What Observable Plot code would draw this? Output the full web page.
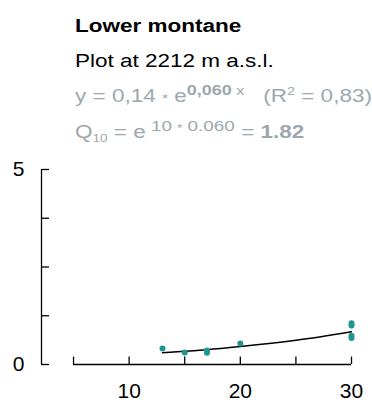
<!DOCTYPE html>
<html>
<head>
<meta charset="utf-8">
<script src="https://cdn.jsdelivr.net/npm/d3@7"></script>
<script src="https://cdn.jsdelivr.net/npm/@observablehq/plot@0.6"></script>
<style>
  body { margin: 0; background: #fff; }
  #page { position: relative; width: 372px; height: 406px; overflow: hidden; font-family: "Liberation Sans", Arial, sans-serif; }
  .line { position: absolute; left: 75px; font-size: 18px; line-height: 18px; white-space: nowrap; transform: scaleX(1.25); transform-origin: left center; }
  .gray { color: #9da8ae; }
  .ast { font-size: 0.7em; position: relative; top: 0.05em; }
  .up { position: relative; }
  #chart { position: absolute; left: 0; top: 150px; }
</style>
</head>
<body>
<div id="page">
  <div class="line" style="top:17px;font-weight:bold;">Lower montane</div>
  <div class="line" style="top:52px;">Plot at 2212 m a.s.l.</div>
  <div class="line gray" style="top:87px;">y = 0,14 <span class="ast">*</span> e<span class="up" style="font-size:0.8em;font-weight:bold;top:-0.5em;">0,060</span><span class="up" style="font-size:0.72em;top:-0.55em;"> x</span>&nbsp;&nbsp;&nbsp;(R<span class="up" style="font-size:0.64em;top:-0.6em;">2</span> = 0,83)</div>
  <div class="line gray" style="top:123px;">Q<span class="up" style="font-size:0.6em;top:0.4em;">10</span> = e<span class="up" style="font-size:0.84em;top:-0.45em;"> 10 <span class="ast">*</span> 0.060</span> = <b>1.82</b></div>
  <div id="chart"></div>
</div>
<script>
// Data
const temperature = [13, 15, 17, 17, 20, 30, 30, 30, 30];
const respiration = [0.41, 0.31, 0.30, 0.36, 0.54, 1.06, 1.00, 0.74, 0.68];

// Fitted curve
const fitX = [13, 15, 17, 20, 25, 30];
const fitY = [0.30, 0.34, 0.38, 0.46, 0.62, 0.84];

const xTicks = [5, 10, 15, 20, 25, 30];
const xLabels = [10, 20, 30];
const yTicks = [0, 1.25, 2.5, 3.75, 5];
const yLabels = [0, 5];

const yAxisAt = 2.12;

const points = temperature.map((t, i) => ({t, r: respiration[i]}));
const fit = fitX.map((t, i) => ({t, r: fitY[i]}));

const chart = Plot.plot({
  width: 372,
  height: 256,
  marginLeft: 41,
  marginRight: 21,
  marginTop: 19,
  marginBottom: 42,
  style: {fontFamily: "Liberation Sans, Arial, sans-serif", background: "white", overflow: "visible"},
  x: {domain: [yAxisAt, 30], axis: null},
  y: {domain: [0, 5], axis: null},
  marks: [
    Plot.ruleX([yAxisAt], {y1: 0, y2: 5, stroke: "black", strokeWidth: 1.3}),
    Plot.ruleY(yTicks, {y: d => d, x1: yAxisAt, x2: yAxisAt + 0.72, stroke: "black", strokeWidth: 1.3}),
    Plot.text(yLabels, {x: yAxisAt, y: d => d, text: d => String(d), dx: -23, textAnchor: "middle", fontSize: 21, fill: "black"}),
    Plot.ruleY([0], {x1: 5, x2: 30, stroke: "black", strokeWidth: 1.3}),
    Plot.ruleX(xTicks, {x: d => d, y1: 0, y2: 0.19, stroke: "black", strokeWidth: 1.3}),
    Plot.text(xLabels, {x: d => d, y: 0, text: d => String(d), dy: 27, textAnchor: "middle", fontSize: 21, fill: "black"}),
    Plot.line(fit, {x: "t", y: "r", curve: "natural", stroke: "black", strokeWidth: 1.5}),
    Plot.dot(points, {x: "t", y: "r", r: 3, fill: "#1f9690", stroke: "none"})
  ]
});
document.getElementById("chart").appendChild(chart);
</script>
</body>
</html>
